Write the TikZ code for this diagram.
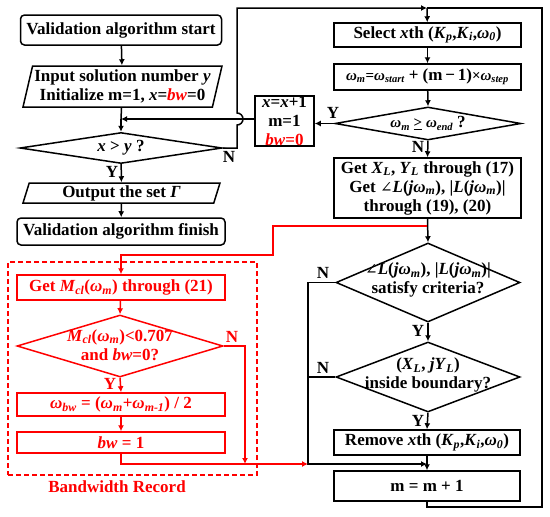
\documentclass[tikz,border=0pt]{standalone}
\usepackage{fontspec}
\setmainfont{Liberation Serif}
\newfontfamily\angfont{DejaVu Serif}
\usetikzlibrary{arrows.meta,shapes.geometric}
\definecolor{flowRed}{RGB}{255,0,0}
\newcommand{\lowidx}[1]{\textsubscript{\textit{#1}}}
\newcommand{\angsym}{{\angfont\mdseries\fontsize{15}{15}\selectfont ∠}}

\begin{document}
\begin{tikzpicture}[x=1pt, y=-1pt,
    box/.style={draw, line width=1.5pt, inner sep=0pt, align=center,
        font=\fontsize{17}{19}\selectfont\bfseries},
    term/.style={box, rounded corners=4pt},
    io/.style={box, trapezium, trapezium stretches body},
    dia/.style={draw, diamond, line width=1.5pt, inner sep=0pt},
    txt/.style={inner sep=0pt, align=center, font=\fontsize{17}{19}\selectfont\bfseries},
    lbl/.style={inner sep=0pt, font=\fontsize{17}{19}\selectfont\bfseries},
    wire/.style={line width=1.5pt},
    arr/.style={wire, -{Latex[length=6pt,width=6pt]}}]
    \useasboundingbox (0,0) rectangle (550,517);

    % main loop, left column
    \node[term, minimum width=201pt, minimum height=30pt] (start) at (121,30) {Validation algorithm start};
    \node[io, trapezium left angle=74, trapezium right angle=106, minimum width=199pt, minimum height=41pt]
        (input) at (122.5,86.5) {Input solution number \textit{y}\\Initialize m=1, \textit{x}=\textcolor{flowRed}{\textit{bw}}=0};
    \node[dia, minimum width=202pt, minimum height=31pt] (xgty) at (121,148) {};
    \node[txt] (xgtyT) at (xgty) {\textit{x} > \textit{y} ?};
    \node[io, trapezium left angle=68, trapezium right angle=112, minimum width=197pt, minimum height=20pt]
        (output) at (121.5,193) {Output the set \textit{Γ}};
    \node[term, minimum width=208pt, minimum height=27pt] (finish) at (121,231.5) {Validation algorithm finish};

    \coordinate (jn) at (121,119);
    \coordinate (topj) at (427,8);
    \draw[arr] (start) -- (input);
    \draw[wire] (input) -- (jn);
    \draw[arr] (jn) -- (xgty.north);
    \draw[arr] (xgty) -- (output);
    \draw[arr] (output) -- (finish);
    \node[lbl] (yA) at (112,172) {Y};
    \node[lbl] (nA) at (229,157) {N};
    \draw[arr] (xgty.east) -- (237,148) -- (237,125) arc[start angle=-90, end angle=90, radius=6pt]
        -- (237,8) -- (topj);

    % right column
    \node[box, minimum width=187pt, minimum height=24pt] (select) at (427.5,35)
        {Select \textit{x}th (\textit{K}\lowidx{p},\textit{K}\lowidx{i},\textit{ω}\lowidx{0})};
    \node[box, minimum width=187pt, minimum height=26pt] (wm) at (427.5,77)
        {\fontsize{15}{17}\selectfont\textit{ω}\lowidx{m}=\textit{ω}\lowidx{start} {\fontsize{17}{19}\selectfont+ (m\,−\,1)}×\textit{ω}\lowidx{step}};
    \node[dia, minimum width=186pt, minimum height=33pt] (wend) at (428,123.5) {};
    \node[txt] (wendT) at (wend) {\fontsize{15}{17}\selectfont\textit{ω}\lowidx{m} \underline{>} \textit{ω}\lowidx{end} {\fontsize{17}{19}\selectfont?}};
    \node[box, minimum width=59pt, minimum height=50pt] (xbox) at (284.5,121)
        {\textit{x}=\textit{x}+1\\m=1\\\textcolor{flowRed}{\textit{bw}=0}};
    \node[box, minimum width=187pt, minimum height=60pt] (getxl) at (427.5,188)
        {Get \textit{X}\lowidx{L}, \textit{Y}\lowidx{L} through (17)\\
         Get \angsym\textit{L}(\textit{jω}\lowidx{m}), |\textit{L}(\textit{jω}\lowidx{m})|\\
         through (19), (20)};
    \node[dia, minimum width=184pt, minimum height=79pt] (crit) at (428,282.5) {};
    \node[txt] (critT) at (428,280) {\angsym\textit{L}(\textit{jω}\lowidx{m}), |\textit{L}(\textit{jω}\lowidx{m})|\\satisfy criteria?};
    \node[dia, minimum width=184pt, minimum height=70pt] (bound) at (428,377) {};
    \node[txt] (boundT) at (428,375) {(\textit{X}\lowidx{L}, \textit{jY}\lowidx{L})\\inside boundary?};
    \node[box, minimum width=186pt, minimum height=25pt] (remove) at (427,442.5)
        {Remove \textit{x}th (\textit{K}\lowidx{p},\textit{K}\lowidx{i},\textit{ω}\lowidx{0})};
    \node[box, minimum width=186pt, minimum height=30pt] (mm) at (427,486) {m = m + 1};

    \coordinate (redj) at (427,226);
    \coordinate (nj) at (308,464);
    \coordinate (mj) at (427,464);
    \draw[arr] (topj) -- (select);
    \draw[arr] (select) -- (wm);
    \draw[arr] (wm) -- (wend.north);
    \draw[arr] (wend.west) -- (xbox.east |- wend.west);
    \draw[arr] (xbox.west |- jn) -- (jn);
    \draw[arr] (wend.south) -- (getxl.north);
    \draw[arr] (getxl.south) -- (crit.north);
    \draw[arr] (crit.south) -- (bound.north);
    \draw[arr] (bound.south) -- (remove.north);
    \draw[arr] (remove) -- (mm);
    \draw[arr] (crit.west) -| (nj) -- (mj);
    \draw[wire] (bound.west) -- (bound.west -| nj);
    \draw[wire] (mm.south) -- (427,507) -- (542,507) -- (542,8) -- (topj);
    \node[lbl] (yB) at (333,113) {Y};
    \node[lbl] (nB) at (418,147) {N};
    \node[lbl] (nC) at (323,273) {N};
    \node[lbl] (yC) at (418,331) {Y};
    \node[lbl] (nD) at (323,368) {N};
    \node[lbl] (yD) at (418,421) {Y};

    % bandwidth record
    \begin{scope}[flowRed]
    \node[draw, dash pattern=on 5pt off 3pt, line width=1.5pt, minimum width=249pt, minimum height=213pt]
        (bwrec) at (132.5,368.5) {};
    \node[box, minimum width=208pt, minimum height=25pt] (mcl) at (121,287.5)
        {Get \textit{M}\lowidx{cl}(\textit{ω}\lowidx{m}) through (21)};
    \node[dia, minimum width=206pt, minimum height=62pt] (cut) at (120,346) {};
    \node[txt] (cutT) at (120,345) {\textit{M}\lowidx{cl}(\textit{ω}\lowidx{m})<0.707\\and \textit{bw}=0?};
    \node[box, minimum width=208pt, minimum height=23pt] (wbw) at (121,404.5)
        {\textit{ω}\lowidx{bw} = (\textit{ω}\lowidx{m}+\textit{ω}\lowidx{m-1}) / 2};
    \node[box, minimum width=208pt, minimum height=21pt] (bwone) at (121,442.5) {\textit{bw} = 1};
    \node[lbl] (bwlbl) at (117,487) {Bandwidth Record};
    \node[lbl] (yE) at (110,384) {Y};
    \node[lbl] (nE) at (232,337) {N};

    \draw[arr] (redj) -- (273,226) -- (273,255) -- (121,255) -- (mcl.north);
    \draw[arr] (mcl) -- (cut.north);
    \draw[arr] (cut.south) -- (wbw.north);
    \draw[arr] (wbw) -- (bwone);
    \draw[arr] (bwone.south) |- (nj);
    \draw[arr] (cut.east) -- (245,346) -- (245,464);
    \end{scope}
\end{tikzpicture}
\end{document}
